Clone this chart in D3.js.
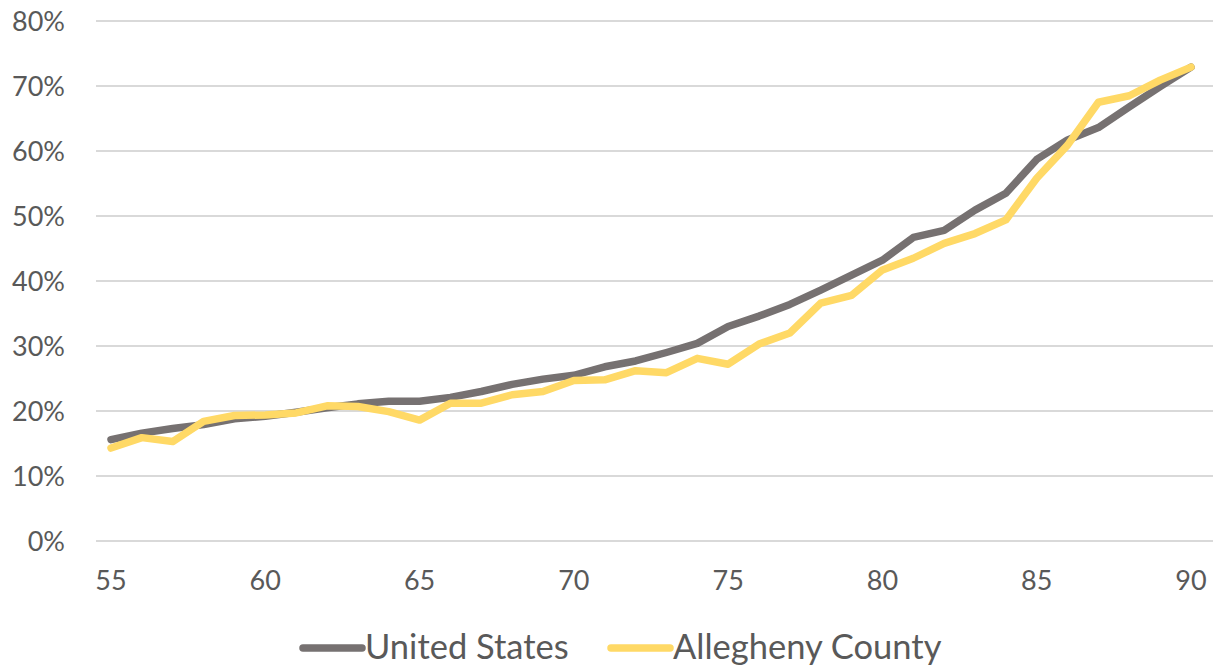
<!DOCTYPE html>
<html>
<head>
<meta charset="utf-8">
<script src="https://cdn.jsdelivr.net/npm/d3@7"></script>
<style>
  body { margin: 0; background: #fff; }
  text { font-family: Lato, "Open Sans", sans-serif; fill: #595959; }
</style>
</head>
<body>
<script>
const ages = d3.range(55, 91);
const unitedStates = [15.6, 16.6, 17.3, 17.9, 18.8, 19.2, 19.8, 20.5, 21.1, 21.5, 21.5, 22.1,
  23.0, 24.1, 24.9, 25.5, 26.8, 27.7, 29.0, 30.4, 33.0, 34.6, 36.4, 38.6, 40.9, 43.2, 46.7,
  47.8, 50.9, 53.5, 58.7, 61.7, 63.6, 66.8, 69.9, 72.9];
const alleghenyCounty = [14.3, 15.9, 15.3, 18.4, 19.3, 19.4, 19.7, 20.8, 20.7, 19.9, 18.6,
  21.2, 21.2, 22.5, 23.0, 24.7, 24.8, 26.2, 25.9, 28.1, 27.2, 30.3, 32.0, 36.6, 37.8, 41.7,
  43.5, 45.8, 47.3, 49.4, 55.8, 60.9, 67.5, 68.5, 70.9, 72.9];
const yTicks = [0, 10, 20, 30, 40, 50, 60, 70, 80];
const xTicks = [55, 60, 65, 70, 75, 80, 85, 90];
const seriesNames = ["United States", "Allegheny County"];
const seriesColors = ["#767171", "#FFD966"];

function main() {
  const width = 1220, height = 665;
  const svg = d3.select("body").append("svg")
    .attr("width", width)
    .attr("height", height);

  const x = d3.scaleLinear().domain([55, 90]).range([111, 1191]);
  const y = d3.scaleLinear().domain([0, 80]).range([541, 21]);
  const gridLeft = 96, gridRight = 1213;

  // gridlines
  svg.append("g").selectAll("line")
    .data(yTicks)
    .enter().append("line")
    .attr("x1", gridLeft).attr("x2", gridRight)
    .attr("y1", d => y(d)).attr("y2", d => y(d))
    .attr("stroke", "#d9d9d9")
    .attr("stroke-width", 2);

  // y labels
  svg.append("g").selectAll("text")
    .data(yTicks)
    .enter().append("text")
    .attr("x", 65)
    .attr("y", d => y(d))
    .attr("dy", "0.36em")
    .attr("text-anchor", "end")
    .style("font-size", "27px")
    .text(d => d + "%");

  // x labels
  svg.append("g").selectAll("text")
    .data(xTicks)
    .enter().append("text")
    .attr("x", d => x(d))
    .attr("y", 580)
    .attr("dy", "0.36em")
    .attr("text-anchor", "middle")
    .style("font-size", "27px")
    .text(d => d);

  const line = d3.line()
    .x((d, i) => x(ages[i]))
    .y(d => y(d));

  [unitedStates, alleghenyCounty].forEach(function(values, k) {
    svg.append("path")
      .datum(values)
      .attr("d", line)
      .attr("fill", "none")
      .attr("stroke", seriesColors[k])
      .attr("stroke-width", 7.5)
      .attr("stroke-linejoin", "round")
      .attr("stroke-linecap", "round");
  });

  // legend
  const legendX = [303, 611];
  const legend = svg.append("g").selectAll("g")
    .data(seriesNames)
    .enter().append("g")
    .attr("transform", (d, i) => "translate(" + legendX[i] + ",648)");
  legend.append("line")
    .attr("x1", 0).attr("x2", 59)
    .attr("stroke", (d, i) => seriesColors[i])
    .attr("stroke-width", 7.5)
    .attr("stroke-linecap", "round");
  legend.append("text")
    .attr("x", 62)
    .attr("y", -1)
    .attr("dy", "0.36em")
    .style("font-size", "34.5px")
    .text(d => d);
}
main();
</script>
</body>
</html>
